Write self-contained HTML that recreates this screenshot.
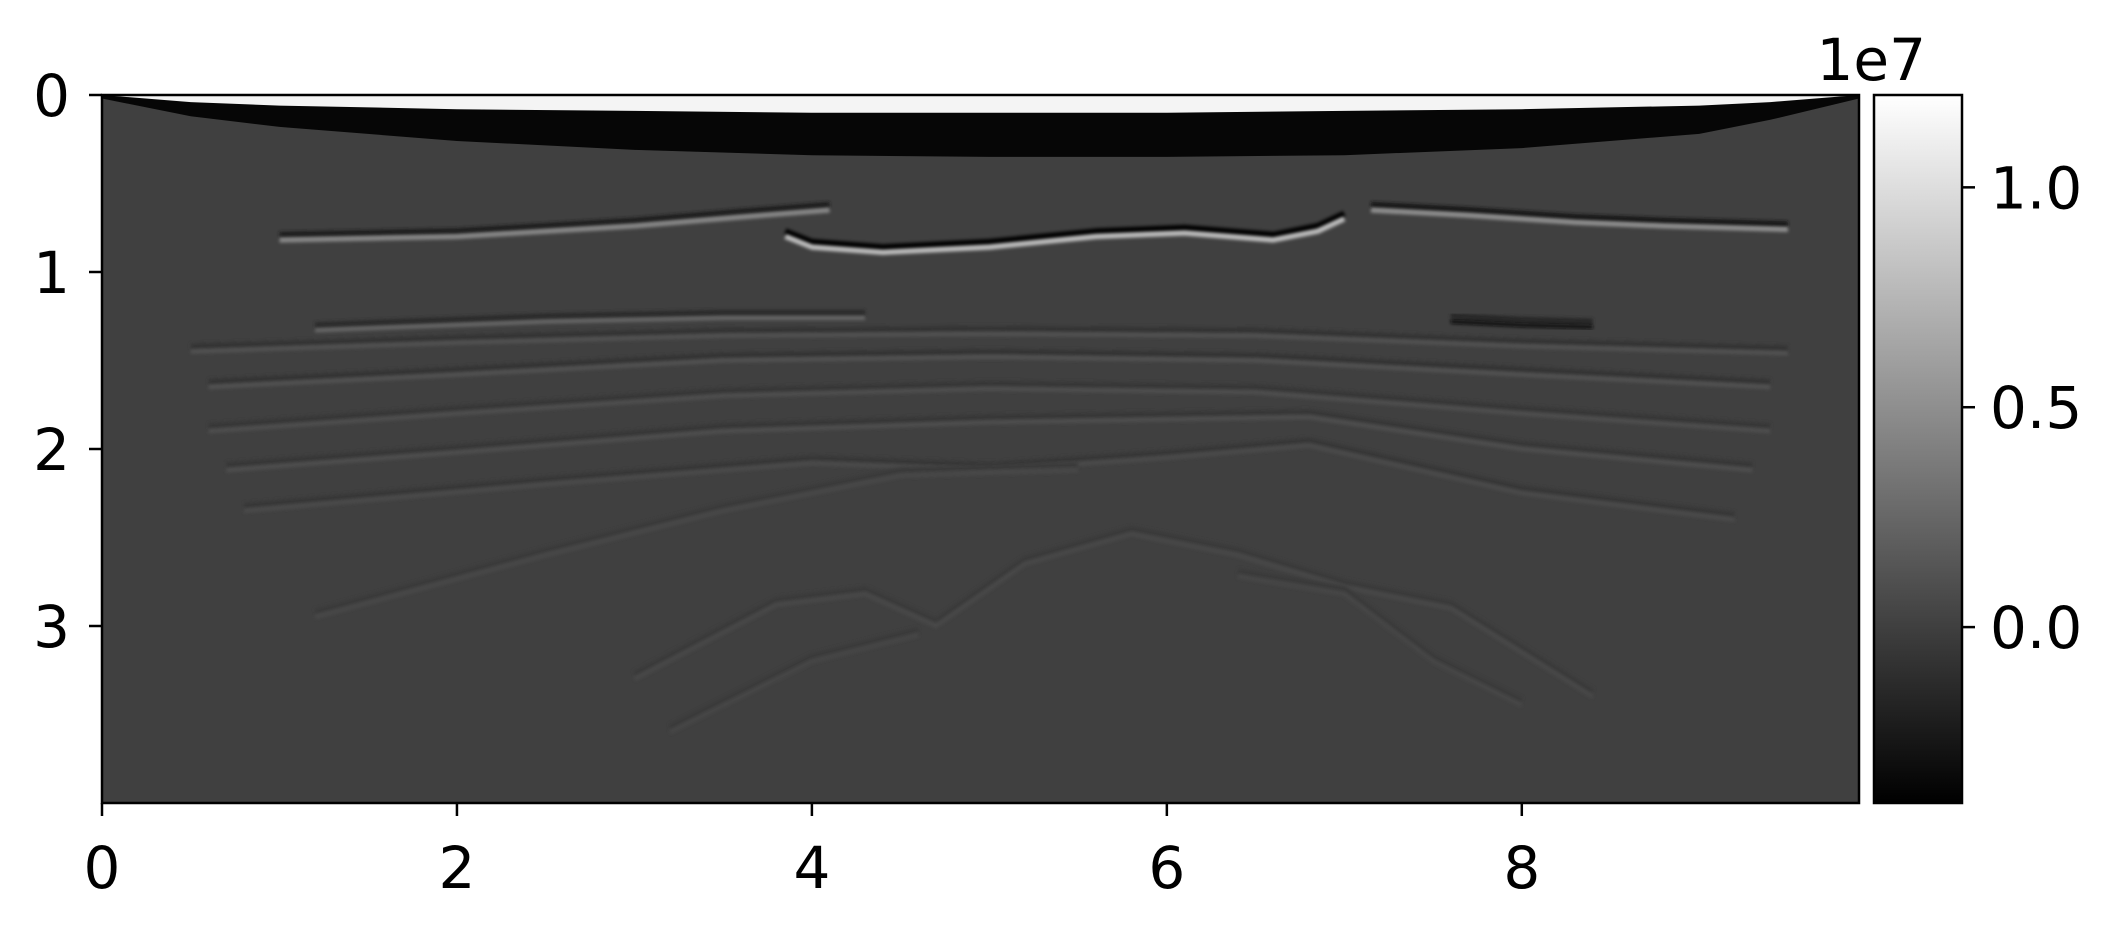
<!DOCTYPE html>
<html><head><meta charset="utf-8"><style>
html,body{margin:0;padding:0;background:#fff;}
svg{display:block;font-family:"DejaVu Sans","Liberation Sans",sans-serif;}
</style></head><body>
<svg id="chart" width="2126" height="929" viewBox="0 0 2126 929" xmlns="http://www.w3.org/2000/svg">
<defs>
<linearGradient id="cbgrad" x1="0" y1="1" x2="0" y2="0">
<stop offset="0" stop-color="#000"/><stop offset="1" stop-color="#fff"/>
</linearGradient>
<clipPath id="plotclip"><rect x="102" y="95" width="1757" height="708"/></clipPath>
<filter id="soft" x="-5%" y="-50%" width="110%" height="200%"><feGaussianBlur stdDeviation="1.5"/></filter>
</defs>
<rect x="102" y="95" width="1757" height="708" fill="#404040"/>
<g id="marks" clip-path="url(#plotclip)"></g>
<rect x="102" y="95" width="1757" height="708" fill="none" stroke="#000" stroke-width="2.5"/>
<g id="axes"></g>
<rect x="1874" y="95" width="88" height="708" fill="url(#cbgrad)" stroke="#000" stroke-width="2.5"/>
<text x="1926" y="80" font-size="58" text-anchor="end">1e7</text>
</svg>
<script>
const xTicks=[0,2,4,6,8];
const yTicks=[0,1,2,3];
const cbTicks=[0.0,0.5,1.0];
const cbTickLabels=["0.0","0.5","1.0"];
const xDomain=[0,9.9];
const yDomain=[0,4.0];
const cDomain=[-0.4,1.21];
// reflectors: point lists [x km, z km] and amplitude (x1e7)
const refl1=[[1.0,0.82],[2.0,0.80],[3.0,0.74],[3.6,0.69],[4.1,0.65]];
const refl2=[[3.85,0.80],[4.0,0.86],[4.4,0.89],[5.0,0.86],[5.6,0.80],[6.1,0.78],[6.6,0.82],[6.85,0.77],[7.0,0.70]];
const refl3=[[7.15,0.65],[7.7,0.68],[8.3,0.72],[8.8,0.74],[9.5,0.76]];
const refl4=[[1.2,1.33],[2.5,1.28],[3.5,1.26],[4.3,1.26]];
const refl5=[[7.6,1.28],[8.0,1.30],[8.4,1.31]];
const refl6=[[0.5,1.45],[2,1.40],[3.5,1.36],[5,1.35],[6.5,1.36],[8,1.42],[9.5,1.46]];
const refl7=[[0.6,1.65],[2,1.58],[3.5,1.50],[5,1.48],[6.5,1.50],[8,1.58],[9.4,1.65]];
const refl8=[[0.6,1.90],[2,1.80],[3.5,1.70],[5,1.66],[6.5,1.68],[8,1.80],[9.4,1.90]];
const refl9=[[0.7,2.12],[2,2.02],[3.5,1.90],[5,1.85],[6.8,1.82],[8,2.00],[9.3,2.12]];
const refl10=[[0.8,2.35],[2.5,2.20],[4,2.08],[5,2.12],[6,2.05],[6.8,1.98],[8,2.25],[9.2,2.40]];
const refl11=[[1.2,2.95],[2.5,2.60],[3.5,2.35],[4.5,2.15],[5.5,2.12]];
const refl12=[[3.0,3.30],[3.8,2.88],[4.3,2.82],[4.7,3.00],[5.2,2.65],[5.8,2.48],[6.4,2.60],[7.0,2.78],[7.6,2.90],[8.4,3.40]];
const refl13=[[3.2,3.60],[4.0,3.20],[4.6,3.05]];
const refl14=[[6.4,2.72],[7.0,2.82],[7.5,3.20],[8.0,3.45]];
const refls=[refl1,refl2,refl3,refl4,refl5,refl6,refl7,refl8,refl9,refl10,refl11,refl12,refl13,refl14];
const amps=[0.45,0.8,0.5,0.25,-0.3,0.12,0.12,0.1,0.1,0.08,0.06,0.06,0.05,0.05];
// top band: depth of white and black bands along x
const bandX=[0,0.5,1,2,3,4,5,6,7,8,9,9.4,9.9];
const whiteZ=[0.0,0.04,0.06,0.08,0.09,0.10,0.10,0.10,0.09,0.08,0.06,0.04,0.0];
const blackZ=[0.02,0.12,0.18,0.26,0.31,0.34,0.35,0.35,0.34,0.30,0.22,0.14,0.02];

const NS="http://www.w3.org/2000/svg";
const X=v=>102+(v-xDomain[0])/(xDomain[1]-xDomain[0])*1757;
const Y=v=>95+(v-yDomain[0])/(yDomain[1]-yDomain[0])*708;
const CY=v=>803-(v-cDomain[0])/(cDomain[1]-cDomain[0])*708;
const gray=v=>{let t=(v-cDomain[0])/(cDomain[1]-cDomain[0]);t=Math.max(0,Math.min(1,t));const g=Math.round(t*255);return `rgb(${g},${g},${g})`;};
const marks=document.getElementById('marks');
const axes=document.getElementById('axes');
function mk(tag,attrs,parent){const e=document.createElementNS(NS,tag);for(const k in attrs)e.setAttribute(k,attrs[k]);parent.appendChild(e);return e;}
function linePath(pts,dz){return pts.map((p,i)=>(i?'L':'M')+X(p[0]).toFixed(1)+','+Y(p[1]+dz).toFixed(1)).join(' ');}

let d='M'+X(bandX[0])+','+Y(0);
bandX.forEach((x,i)=>{d+=' L'+X(x).toFixed(1)+','+Y(blackZ[i]).toFixed(1);});
d+=' L'+X(bandX[bandX.length-1])+','+Y(0)+' Z';
const bb=mk('path',{d:d,fill:gray(-0.36)},marks);


let dw='M'+X(bandX[0])+','+Y(0);
bandX.forEach((x,i)=>{dw+=' L'+X(x).toFixed(1)+','+Y(whiteZ[i]).toFixed(1);});
dw+=' L'+X(bandX[bandX.length-1])+','+Y(0)+' Z';
const wb=mk('path',{d:dw,fill:'#f4f4f4'},marks);



refls.forEach((pts,i)=>{
  const a=amps[i];
  const dk=mk('path',{d:linePath(pts,-0.03),fill:'none',stroke:gray(-Math.abs(a)*0.5),'stroke-width':6,'stroke-linejoin':'round',filter:'url(#soft)'},marks);
  
  
  const br=mk('path',{d:linePath(pts,0),fill:'none',stroke:gray(a),'stroke-width':a>0.3?5:4,'stroke-linejoin':'round',filter:'url(#soft)'},marks);
  
  
});

xTicks.forEach(t=>{
  const x=X(t);
  const tk=mk('line',{x1:x,y1:803,x2:x,y2:816,stroke:'#000','stroke-width':2.5},axes);
  
  
  const tx=mk('text',{x:x,y:888,'font-size':58,'text-anchor':'middle'},axes);
  tx.textContent=String(t);
  
  
});
yTicks.forEach(t=>{
  const y=Y(t);
  const tk=mk('line',{x1:89,y1:y,x2:102,y2:y,stroke:'#000','stroke-width':2.5},axes);
  
  
  const tx=mk('text',{x:70,y:y+21,'font-size':58,'text-anchor':'end'},axes);
  tx.textContent=String(t);
  
  
});
cbTicks.forEach((t,i)=>{
  const y=CY(t);
  const tk=mk('line',{x1:1962,y1:y,x2:1975,y2:y,stroke:'#000','stroke-width':2.5},axes);
  
  
  const tx=mk('text',{x:1990,y:y+21,'font-size':58},axes);
  tx.textContent=cbTickLabels[i];
  
  
});
</script>
</body></html>
